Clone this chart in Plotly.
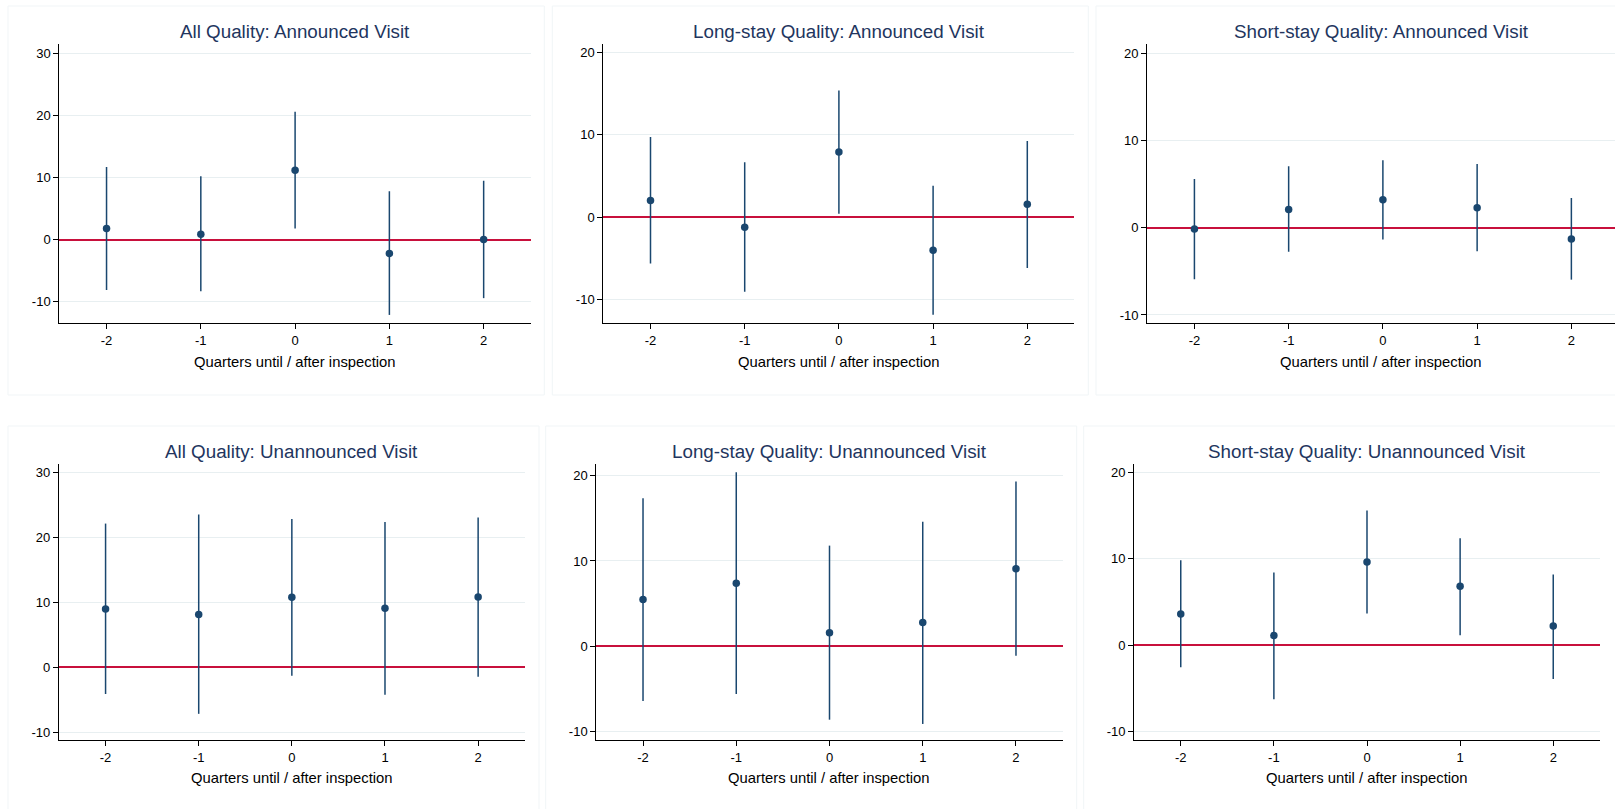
import plotly.graph_objects as go

# ---------------- data ----------------
quarters = [-2, -1, 0, 1, 2]

titles = [
    "All Quality: Announced Visit",
    "Long-stay Quality: Announced Visit",
    "Short-stay Quality: Announced Visit",
    "All Quality: Unannounced Visit",
    "Long-stay Quality: Unannounced Visit",
    "Short-stay Quality: Unannounced Visit",
]
x_title = "Quarters until / after inspection"

all_ann_coef = [1.8, 0.9, 11.2, -2.2, 0.05]
all_ann_lo = [-8.1, -8.3, 1.8, -12.1, -9.4]
all_ann_hi = [11.7, 10.2, 20.6, 7.8, 9.5]

long_ann_coef = [2.0, -1.25, 7.9, -4.05, 1.55]
long_ann_lo = [-5.65, -9.1, 0.4, -11.9, -6.2]
long_ann_hi = [9.75, 6.65, 15.4, 3.8, 9.25]

short_ann_coef = [-0.15, 2.1, 3.2, 2.3, -1.3]
short_ann_lo = [-5.9, -2.75, -1.35, -2.7, -5.95]
short_ann_hi = [5.6, 7.05, 7.75, 7.3, 3.4]

all_unann_coef = [8.95, 8.1, 10.75, 9.05, 10.8]
all_unann_lo = [-4.15, -7.2, -1.35, -4.25, -1.5]
all_unann_hi = [22.1, 23.5, 22.8, 22.35, 23.05]

long_unann_coef = [5.5, 7.4, 1.6, 2.8, 9.1]
long_unann_lo = [-6.4, -5.6, -8.6, -9.1, -1.1]
long_unann_hi = [17.35, 20.4, 11.8, 14.6, 19.3]

short_unann_coef = [3.6, 1.1, 9.6, 6.8, 2.2]
short_unann_lo = [-2.55, -6.25, 3.65, 1.15, -3.9]
short_unann_hi = [9.8, 8.4, 15.55, 12.35, 8.15]

y_ticks_wide = [-10, 0, 10, 20, 30]
y_ticks_narrow = [-10, 0, 10, 20]

series = [
    (all_ann_coef, all_ann_lo, all_ann_hi),
    (long_ann_coef, long_ann_lo, long_ann_hi),
    (short_ann_coef, short_ann_lo, short_ann_hi),
    (all_unann_coef, all_unann_lo, all_unann_hi),
    (long_unann_coef, long_unann_lo, long_unann_hi),
    (short_unann_coef, short_unann_lo, short_unann_hi),
]

# ---------------- layout geometry (pixels) ----------------
W, H = 1615, 809
plot_boxes = [  # x0, x1, ytop, ybot
    (59.4, 530.8, 44.3, 323.0),
    (603.4, 1074.4, 44.3, 323.0),
    (1147.3, 1615.0, 44.3, 323.0),
    (59.0, 524.7, 464.3, 740.0),
    (596.4, 1062.6, 464.3, 740.0),
    (1134.2, 1599.8, 464.3, 740.0),
]
x_ranges = [[-2.5, 2.5], [-2.5, 2.5], [-2.5, 2.463],
            [-2.5, 2.5], [-2.5, 2.5], [-2.5, 2.5]]
y_ranges = [[-13.4, 31.45], [-12.9, 21.02], [-10.92, 21.03],
            [-11.23, 31.23], [-10.98, 21.33], [-10.96, 20.89]]
y_tickvals = [y_ticks_wide, y_ticks_narrow, y_ticks_narrow,
              y_ticks_wide, y_ticks_narrow, y_ticks_narrow]
borders = [
    (8, 544.3, 6, 395),
    (552.3, 1088.3, 6, 395),
    (1096, 1625, 6, 395),
    (8, 539, 426, 820),
    (545.7, 1076.7, 426, 820),
    (1083.7, 1625, 426, 820),
]
title_y = [31.7, 31.7, 31.7, 451.7, 451.7, 451.7]
axis_title_y = [361.7, 361.7, 361.7, 777.7, 777.7, 777.7]


def px(x):
    return x / W


def py(y):
    return 1 - y / H


NAVY = "#1a476f"
RED = "#c8103c"
TITLE = "#22355e"
GRID = "#e8eff1"
FONT = "Liberation Sans, Arial, sans-serif"

fig = go.Figure()
shapes = []
annotations = []

for i in range(6):
    k = "" if i == 0 else str(i + 1)
    coef, lo, hi = series[i]
    plus = [h - c for h, c in zip(hi, coef)]
    minus = [c - l for c, l in zip(coef, lo)]
    fig.add_trace(go.Scatter(
        x=quarters, y=coef, mode="markers",
        xaxis="x" + k, yaxis="y" + k,
        marker=dict(color=NAVY, size=7.5, line=dict(width=0)),
        error_y=dict(type="data", symmetric=False, array=plus, arrayminus=minus,
                     width=0, thickness=1.5, color=NAVY),
        showlegend=False, hoverinfo="skip",
    ))
    x0, x1, yt, yb = plot_boxes[i]
    fig.layout["xaxis" + k] = dict(
        domain=[px(x0), px(x1)], anchor="y" + k, range=x_ranges[i],
        tickmode="array", tickvals=quarters, ticktext=[str(q) for q in quarters],
        showgrid=False, zeroline=False, showline=True, linecolor="#000000", linewidth=1.3,
        ticks="outside", ticklen=5, tickwidth=1, tickcolor="#000000",
        tickfont=dict(family=FONT, size=13, color="#000000"),
        fixedrange=True,
    )
    fig.layout["yaxis" + k] = dict(
        domain=[py(yb), py(yt)], anchor="x" + k, range=y_ranges[i],
        tickmode="array", tickvals=y_tickvals[i], ticktext=[str(v) for v in y_tickvals[i]],
        showgrid=True, gridcolor=GRID, gridwidth=1,
        zeroline=True, zerolinecolor=RED, zerolinewidth=1.5,
        showline=True, linecolor="#000000", linewidth=1.3,
        ticks="outside", ticklen=5, tickwidth=1, tickcolor="#000000",
        tickfont=dict(family=FONT, size=13, color="#000000"),
        fixedrange=True,
    )
    # faint panel frame
    bx0, bx1, byt, byb = borders[i]
    shapes.append(dict(type="rect", xref="paper", yref="paper",
                       x0=px(bx0), x1=px(bx1), y0=py(byb), y1=py(byt),
                       line=dict(color="#f1f5f7", width=1), layer="below"))
    cx = px((x0 + x1) / 2)
    annotations.append(dict(text=titles[i], x=cx, y=py(title_y[i]), xref="paper", yref="paper",
                            xanchor="center", yanchor="middle", showarrow=False,
                            font=dict(family=FONT, size=18.8, color=TITLE)))
    annotations.append(dict(text=x_title, x=cx, y=py(axis_title_y[i]), xref="paper", yref="paper",
                            xanchor="center", yanchor="middle", showarrow=False,
                            font=dict(family=FONT, size=14.8, color="#000000")))

fig.update_layout(
    width=W, height=H, margin=dict(l=0, r=0, t=0, b=0, pad=0),
    paper_bgcolor="#ffffff", plot_bgcolor="#ffffff",
    shapes=shapes, annotations=annotations, showlegend=False,
)

fig.write_html("out.html", config={"displayModeBar": False})
